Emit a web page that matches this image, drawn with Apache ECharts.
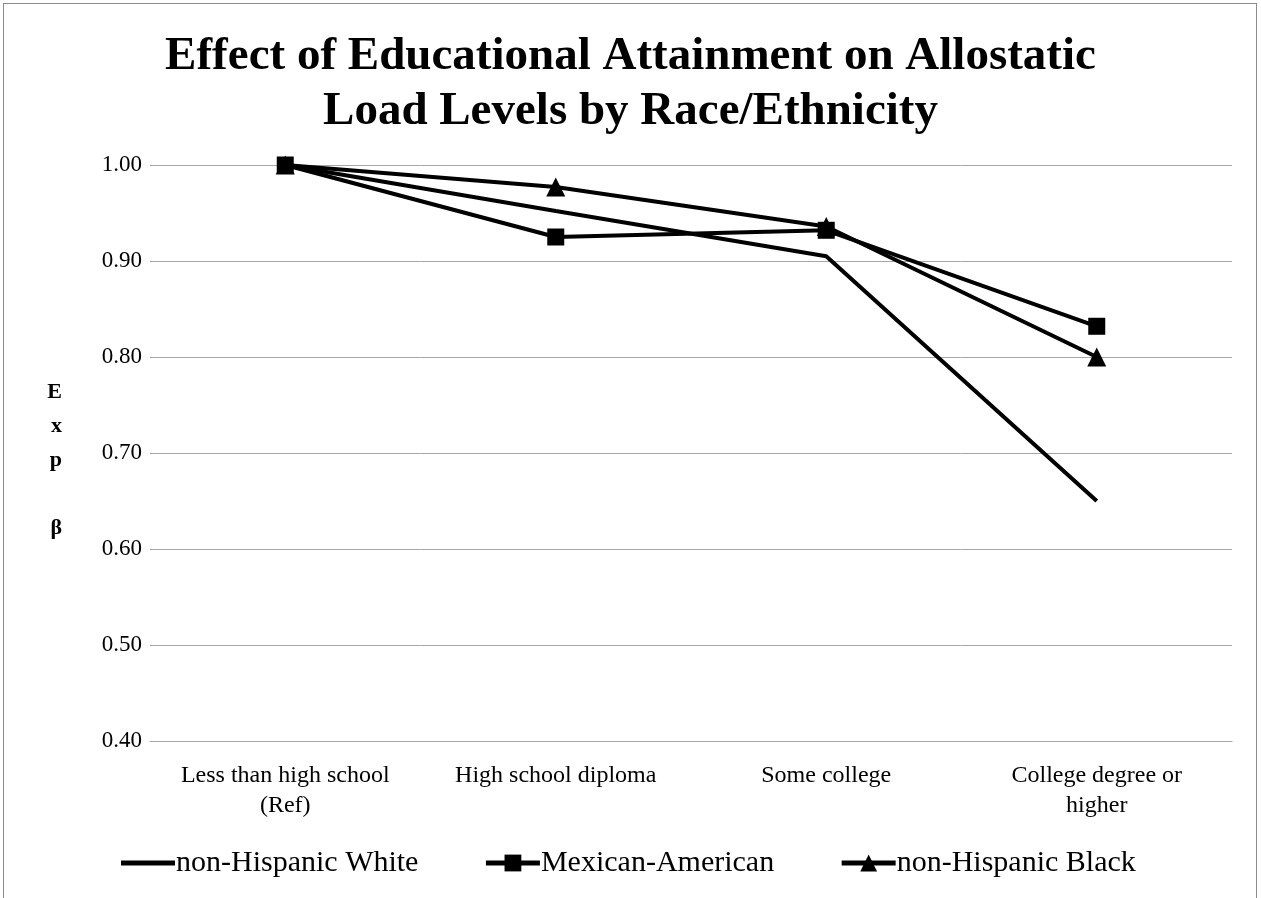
<!DOCTYPE html>
<html><head><meta charset="utf-8">
<script src="https://cdn.jsdelivr.net/npm/echarts@6/dist/echarts.min.js"></script>
<style>
html,body{margin:0;padding:0;background:#fff;}
#wrap{position:absolute;left:3px;top:3px;width:1254px;height:900px;border:1px solid #8c8c8c;box-sizing:border-box;}
#c{position:absolute;left:0;top:0;width:1261px;height:898px;}
</style></head>
<body>
<div id="wrap"></div>
<div id="c"></div>
<script>
const categories = ["Less than high school\n(Ref)", "High school diploma", "Some college", "College degree or\nhigher"];
const seriesNames = ["non-Hispanic White", "Mexican-American", "non-Hispanic Black"];
const whiteVals = [1.00, 0.952, 0.905, 0.650];
const mexicanVals = [1.00, 0.925, 0.932, 0.832];
const blackVals = [1.00, 0.977, 0.936, 0.800];
const yTicks = [0.40, 0.50, 0.60, 0.70, 0.80, 0.90, 1.00];

const font = "'Liberation Serif', 'Times New Roman', serif";
const chart = echarts.init(document.getElementById('c'), null, {renderer:'canvas'});
const lineStyle = {color:'#000', width:4};
chart.setOption({
  animation:false,
  backgroundColor:'transparent',
  title:{
    text:'Effect of Educational Attainment on Allostatic\nLoad Levels by Race/Ethnicity',
    left:'center', top:24,
    textStyle:{fontFamily:font, fontWeight:'bold', fontSize:47, lineHeight:55, color:'#000'}
  },
  grid:{left:150, right:29, top:165, bottom:157, containLabel:false},
  legend:{
    top:843, left:116,
    itemWidth:54, itemHeight:21, itemGap:65,
    symbolKeepAspect:true,
    lineStyle:{width:5},
    textStyle:{fontFamily:font, fontSize:30, color:'#000', padding:[0,0,0,-4]},
    data:[
      {name:seriesNames[0], icon:'path://M0,0H54V5H0Z'},
      {name:seriesNames[1]},
      {name:seriesNames[2]}
    ]
  },
  xAxis:{
    type:'category', data:categories, boundaryGap:true,
    axisLine:{show:true, lineStyle:{color:'#a6a6a6', width:1}},
    axisTick:{show:false},
    axisLabel:{fontFamily:font, fontSize:24, color:'#000', lineHeight:30, margin:20, interval:0}
  },
  yAxis:{
    type:'value', min:0.4, max:1.0, interval:0.1,
    name:'{s| }\nE\nx\np\n\nβ', nameLocation:'middle', nameRotate:0, nameGap:88,
    nameTextStyle:{fontFamily:font, fontWeight:'bold', fontSize:22, lineHeight:34, color:'#000',
      rich:{s:{fontSize:8, lineHeight:14}}},
    axisLine:{show:false}, axisTick:{show:false},
    splitLine:{lineStyle:{color:'#a6a6a6', width:1}},
    axisLabel:{fontFamily:font, fontSize:23, color:'#000', margin:8,
      formatter:v=>{const t=yTicks.find(x=>Math.abs(x-v)<1e-6);return (t!==undefined?t:v).toFixed(2);}}
  },
  series:[
    {name:seriesNames[0], type:'line', data:whiteVals, symbol:'none', lineStyle:lineStyle, itemStyle:{color:'#000'}},
    {name:seriesNames[1], type:'line', data:mexicanVals, symbol:'rect', symbolSize:17, lineStyle:lineStyle, itemStyle:{color:'#000'}},
    {name:seriesNames[2], type:'line', data:blackVals, symbol:'triangle', symbolSize:19, lineStyle:lineStyle, itemStyle:{color:'#000'}}
  ]
});
</script>
</body></html>
